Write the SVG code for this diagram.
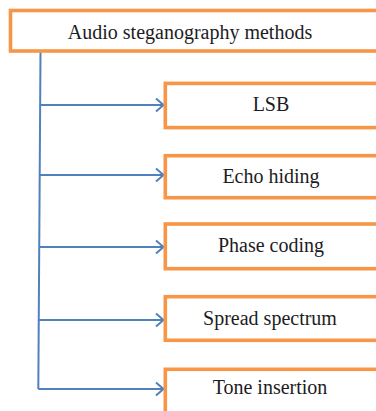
<svg xmlns="http://www.w3.org/2000/svg" width="376" height="411" viewBox="0 0 376 411">
<defs>
<style>
.box{fill:#ffffff;stroke:#F79646;stroke-width:3.6}
.lbl{font-family:"Liberation Serif","Times New Roman",serif;font-size:20px;fill:#1c1c24;text-anchor:middle}
.conn{fill:none;stroke:#4F81BD;stroke-width:2}
</style>
<marker id="arr" viewBox="0 0 10 16" refX="9" refY="8" markerWidth="10" markerHeight="16" markerUnits="userSpaceOnUse" orient="auto">
<path d="M1.5,1.5 L9,8 L1.5,14.5" fill="none" stroke="#4F81BD" stroke-width="2"/>
</marker>
</defs>
<rect width="376" height="411" fill="#ffffff"/>
<g id="connectors">
<path class="conn" d="M40.5,52 L38.3,389"/>
<path class="conn" d="M40.3,105 L163.5,105" marker-end="url(#arr)"/>
<path class="conn" d="M39.8,175 L163.5,175" marker-end="url(#arr)"/>
<path class="conn" d="M39.3,247 L163.5,247" marker-end="url(#arr)"/>
<path class="conn" d="M38.8,320 L163.5,320" marker-end="url(#arr)"/>
<path class="conn" d="M38.3,389 L163.5,389" marker-end="url(#arr)"/>
</g>
<g id="root">
<rect class="box" x="10.5" y="10.5" width="372" height="40.5"/>
<text class="lbl" x="190" y="38.5">Audio steganography methods</text>
</g>
<g id="lsb">
<rect class="box" x="165.3" y="83.4" width="220" height="44.2"/>
<text class="lbl" x="271" y="110.5">LSB</text>
</g>
<g id="echo">
<rect class="box" x="165.3" y="155.7" width="220" height="42"/>
<text class="lbl" x="271" y="182.5">Echo hiding</text>
</g>
<g id="phase">
<rect class="box" x="165.3" y="224" width="220" height="44.7"/>
<text class="lbl" x="271" y="251.5">Phase coding</text>
</g>
<g id="spread">
<rect class="box" x="165.3" y="296.7" width="220" height="43.6"/>
<text class="lbl" x="270" y="325">Spread spectrum</text>
</g>
<g id="tone">
<rect class="box" x="165.3" y="369.3" width="220" height="50"/>
<text class="lbl" x="270" y="394">Tone insertion</text>
</g>
</svg>
